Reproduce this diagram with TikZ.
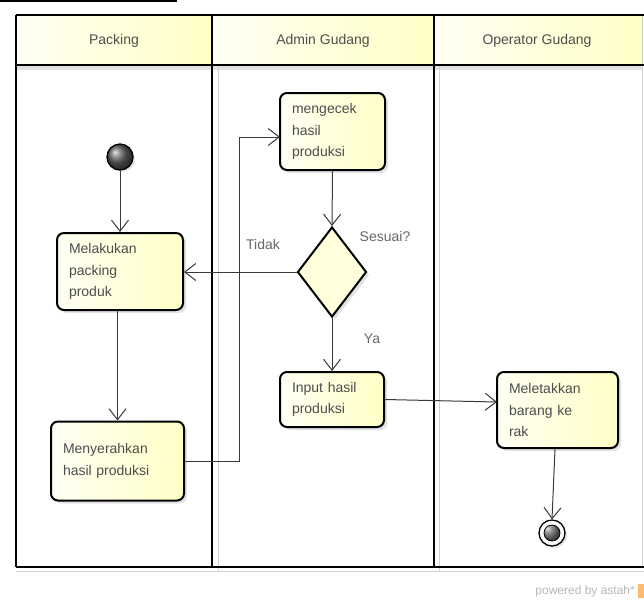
\documentclass[tikz,border=0pt]{standalone}
\usepackage{fontspec}
\setmainfont{Liberation Sans}
\usetikzlibrary{arrows.meta,shapes.geometric,shadows,calc}
\definecolor{txt}{HTML}{4D4D4D}
\definecolor{yl}{HTML}{FFFFC6}
\definecolor{yw}{HTML}{FFFFF4}
\definecolor{dfill}{HTML}{FFFFDC}
\definecolor{ln}{HTML}{3A3A3A}
\begin{document}
\begin{tikzpicture}[x=1pt,y=-1pt,
  lane/.style={line width=2.4pt, draw=black},
  lshadow/.style={line width=1pt, draw=black!18},
  box/.style={draw=black, line width=2pt, rounded corners=7pt, left color=yw, right color=yl,
    drop shadow={opacity=0.22,shadow xshift=3pt,shadow yshift=-3pt},
    inner xsep=12pt, inner ysep=4pt, align=left, font=\fontsize{14}{21.5}\selectfont, text=txt},
  flow/.style={draw=ln, line width=1pt, -{Straight Barb[length=11pt,width=17pt,line width=1pt]}},
  lbl/.style={font=\fontsize{14}{16}\selectfont, text=txt!85, inner sep=0pt},
  hdr/.style={font=\fontsize{14}{16}\selectfont, text=txt, inner sep=0pt},
  initnode/.style={circle, minimum size=26pt, inner sep=0pt, draw=black, line width=1.3pt,
    shading=ball, ball color=gray!75!black,
    drop shadow={opacity=0.22,shadow xshift=2pt,shadow yshift=-2pt}},
  finalnode/.style={circle, minimum size=26pt, inner sep=0pt, draw=black, line width=1.3pt, fill=white,
    drop shadow={opacity=0.22,shadow xshift=2pt,shadow yshift=-2pt},
    path picture={\shade[ball color=gray!75!black] (path picture bounding box.center) circle (8pt);
                  \draw[black, line width=0.8pt] (path picture bounding box.center) circle (8pt);}},
  decision/.style={diamond, draw=black, line width=2pt, fill=dfill, minimum width=69pt, minimum height=90pt,
    inner sep=0pt, drop shadow={opacity=0.22,shadow xshift=3pt,shadow yshift=-3pt}}
]
\useasboundingbox (0,0) rectangle (644,600);
\fill[white] (0,0) rectangle (644,600);

% frame tab fragment
\draw[black, line width=2pt] (0,1) -- (176,1) -- (176,-2);

% header fills
\fill[left color=yw, right color=yl] (16,15) rectangle (212,65);
\fill[left color=yw, right color=yl] (212,15) rectangle (434,65);
\fill[left color=yw, right color=yl] (434,15) rectangle (642,65);
\fill[black!12] (16,66) rectangle (642,70);

% shadow lines
\draw[lshadow] (218,66) -- (218,572);
\draw[lshadow] (439,66) -- (439,572);
\draw[lshadow] (16,571) -- (644,571);
\draw[lshadow] (642,15) -- (642,567);

% lane lines
\draw[lane] (16,15) -- (644,15);
\draw[lane] (16,65) -- (644,65);
\draw[lane] (16,567) -- (644,567);
\draw[lane] (16,15) -- (16,567);
\draw[lane] (212,15) -- (212,567);
\draw[lane] (434,15) -- (434,567);

% headers
\node[hdr] (h1) at (114,41) {Packing};
\node[hdr] (h2) at (323,41) {Admin Gudang};
\node[hdr] (h3) at (537,41) {Operator Gudang};

% nodes
\node[initnode] (start) at (120,157) {};
\node[box, text width=102pt, minimum height=77pt] (mel) at (120,271.5) {Melakukan\\packing\\produk};
\node[box, text width=109pt, minimum height=79pt] (meny) at (117.5,461) {Menyerahkan\\hasil produksi};
\node[box, text width=81pt, minimum height=77pt] (cek) at (332.5,131.5) {mengecek\\hasil\\produksi};
\node[decision] (dec) at (332,272) {};
\node[box, text width=80pt, minimum height=55pt] (inp) at (332,399.5) {Input hasil\\produksi};
\node[box, text width=97pt, minimum height=76pt] (met) at (557.5,410) {Meletakkan\\barang ke\\rak};
\node[finalnode] (end) at (552,533) {};

% labels
\node[lbl] (tidak) at (263,244) {Tidak};
\node[lbl] (sesuai) at (385,236) {Sesuai?};
\node[lbl] (ya) at (372,339) {Ya};

% connectors
\coordinate (bend) at (239,0);
\coordinate (cekin) at (280,137);
\coordinate (metin) at (497,402);
\draw[flow] (start) -- (mel.north);
\draw[flow] (mel.south -| meny.north) -- (meny.north);
\draw[flow] (meny.east) -- (meny.east -| bend) -- (bend |- cekin) -- (cekin);
\draw[flow] (cek.south) -- (dec.north);
\draw[flow] (dec.west) -- (dec.west -| mel.east);
\draw[flow] (dec.south) -- (inp.north);
\draw[flow] (inp.east) -- (metin);
\draw[flow] (met.south -| 555,0) -- (end.north);

% powered by
\node[font=\fontsize{12}{14}\selectfont, text=black!28, anchor=east, inner sep=0pt] (pw) at (635,591) {powered by astah*};
\fill[orange!55] (638,584) rectangle (644,598);
\end{tikzpicture}
\end{document}
